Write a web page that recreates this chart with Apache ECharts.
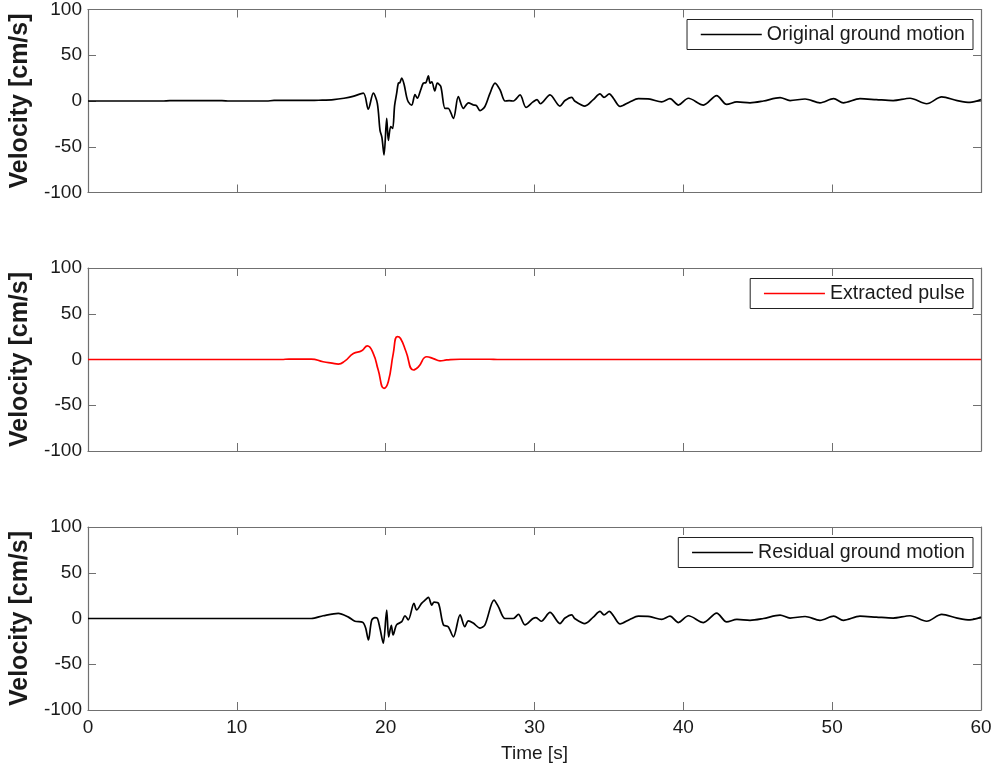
<!DOCTYPE html>
<html>
<head>
<meta charset="utf-8">
<script src="https://cdn.jsdelivr.net/npm/echarts@6/dist/echarts.min.js"></script>
<style>
html,body{margin:0;padding:0;background:#fff;}
#chart{width:995px;height:770px;}
</style>
</head>
<body>
<div id="chart"></div>
<script>
// [time (s), velocity (cm/s)]
const originalEarly = [[0,0],[5,0],[5.5,0.4],[9,0.4],[9.5,0],[12,0],[12.5,0.6],[15,0.6],[15.5,0.8],[16.5,1.5],[17.2,3],[17.8,5],[18.5,8.5],[18.83,-9],[19.17,8.5],[19.44,-2.5],[19.62,-32],[19.75,-40],[19.89,-59],[20.07,-19],[20.18,-43],[20.34,-28],[20.47,-30],[20.6,-5],[20.74,8.5],[20.85,19.5],[20.95,20],[21.08,25],[21.24,18],[21.4,5],[21.52,-1],[21.75,-4.4],[21.97,7],[22.13,3],[22.35,12],[22.53,19.5],[22.7,20],[22.87,27.5],[22.98,19.5],[23.1,21],[23.3,11],[23.47,19.5],[23.7,16],[23.99,-8],[24.2,-8],[24.55,-19],[24.88,4.7],[25.22,-8],[25.56,-2],[25.9,-4.4],[26.1,-5],[26.34,-10.6],[26.67,-6],[27.0,8],[27.35,19.5],[27.69,12],[28.02,0],[28.3,0.5],[28.58,0],[29.03,6.6],[29.43,-7],[29.9,-1],[30.17,1.5],[30.4,-3]];
const residualEarly = [[0,0],[15,0],[15.8,3],[16.82,5.7],[17.5,1.5],[17.94,-3],[18.45,-4],[18.65,-10],[18.84,-23.5],[19.06,-2],[19.28,1],[19.45,0],[19.62,-11],[19.84,-27],[20.07,9.3],[20.2,-20],[20.38,-7.5],[20.5,-18],[20.73,-7],[21.08,-3.5],[21.3,3],[21.52,-1.5],[21.9,16.5],[22.08,9.3],[22.41,16.5],[22.64,20],[22.87,23],[23.1,14.5],[23.25,18],[23.55,16.5],[23.88,-7],[24.2,-9],[24.55,-20],[25.0,4],[25.32,-9],[25.55,-2.5],[25.88,-5],[26.34,-10.5],[26.67,-7],[27.28,20],[27.57,13],[28.02,0],[28.58,0],[28.92,4.5],[29.36,-7],[29.9,0],[30.1,1],[30.45,-3]];
// coda after the pulse (identical in original and residual records)
const lateCoda = [[31.04,6.6],[31.71,-5.5],[32.05,0.5],[32.5,4],[32.7,0],[33.39,-5.5],[33.95,1.5],[34.4,7.7],[34.67,4],[35.03,7.7],[35.3,3],[35.75,-6],[36.4,-1],[36.98,2.5],[37.76,2],[38.54,-1],[39.1,2.5],[39.67,-4.4],[40.34,3],[41.35,-4.4],[42.24,5.9],[42.91,-3.7],[43.6,-1],[44.48,-2],[45.38,0],[46.5,3.7],[47.17,0.5],[48.18,2.2],[49.18,-2],[50.1,2.5],[50.75,-2],[51.87,2.5],[52.97,1.5],[54.1,0.5],[55.23,3],[56.35,-3],[57.36,4.4],[58.4,0.5],[59.26,-1.5],[60,1.5]];
const extractedPulse = [[0,0],[13,0],[13.5,0.5],[15,0.5],[15.8,-2.5],[16.4,-4],[16.82,-5],[17.27,-1.5],[17.83,6.5],[18.39,9.5],[18.77,15],[19.17,6.5],[19.5,-11.5],[19.89,-31.5],[20.18,-24],[20.51,6.5],[20.78,25],[21.0,23],[21.37,8.5],[21.86,-11.5],[22.2,-8],[22.76,3],[23.2,1],[23.65,-1.5],[24.1,-0.5],[25,0.3],[27,0.3],[27.5,0],[60,0]];

const seriesNames = ['Original ground motion','Extracted pulse','Residual ground motion'];
const xTicks = {min:0, max:60, interval:10};
const yTicks = {min:-100, max:100, interval:50};

const originalMotion = originalEarly.concat(lateCoda);
const residualMotion = residualEarly.concat(lateCoda);

const FONT = '"Liberation Sans", Arial, sans-serif';
const AX = '#707070';
const TXT = '#1a1a1a';
const grids = [
  {left:88, right:14, top:9.5, height:183},
  {left:88, right:14, top:268, height:183},
  {left:88, right:14, top:527, height:183}
];
const xAxes = [], yAxes = [];
grids.forEach((g, i) => {
  const last = i === 2;
  xAxes.push({type:'value', gridIndex:i, position:'bottom', min:xTicks.min, max:xTicks.max, interval:xTicks.interval,
    axisLine:{show:true, onZero:false, lineStyle:{color:AX, width:1.2}},
    axisTick:{show:true, inside:true, length:8, lineStyle:{color:AX}},
    axisLabel:{show:last, margin:8, color:TXT, fontSize:19, fontFamily:FONT},
    splitLine:{show:false},
    name: last ? 'Time [s]' : '', nameLocation:'middle', nameGap:34,
    nameTextStyle:{color:TXT, fontSize:19, fontFamily:FONT}});
  xAxes.push({type:'value', gridIndex:i, position:'top', min:xTicks.min, max:xTicks.max, interval:xTicks.interval,
    axisLine:{show:true, onZero:false, lineStyle:{color:AX, width:1.2}},
    axisTick:{show:true, inside:true, length:8, lineStyle:{color:AX}},
    axisLabel:{show:false}, splitLine:{show:false}});
  yAxes.push({type:'value', gridIndex:i, position:'left', min:yTicks.min, max:yTicks.max, interval:yTicks.interval,
    axisLine:{show:true, onZero:false, lineStyle:{color:AX, width:1.2}},
    axisTick:{show:true, inside:true, length:8, lineStyle:{color:AX}},
    axisLabel:{show:true, margin:6, color:TXT, fontSize:19, fontFamily:FONT},
    splitLine:{show:false},
    name:'Velocity [cm/s]', nameLocation:'middle', nameGap:55,
    nameTextStyle:{color:TXT, fontSize:25, fontWeight:'bold', fontFamily:FONT}});
  yAxes.push({type:'value', gridIndex:i, position:'right', min:yTicks.min, max:yTicks.max, interval:yTicks.interval,
    axisLine:{show:true, onZero:false, lineStyle:{color:AX, width:1.2}},
    axisTick:{show:true, inside:true, length:8, lineStyle:{color:AX}},
    axisLabel:{show:false}, splitLine:{show:false}});
});

const datasets = [originalMotion, extractedPulse, residualMotion];
const colors = ['#000000', '#ff0000', '#000000'];
const smooths = [0.3, 0.5, 0.3];
const series = datasets.map((d, i) => ({
  name: seriesNames[i], type:'line', xAxisIndex:2*i, yAxisIndex:2*i,
  data: d, symbol:'none', smooth: smooths[i], animation:false,
  lineStyle:{color:colors[i], width:1.7}, itemStyle:{color:colors[i]}
}));

const legendTops = [19.5, 278.5, 537.5];
const legends = seriesNames.map((n, i) => ({
  data:[n], right:22, top:legendTops[i], orient:'horizontal',
  backgroundColor:'#fff', borderColor:'#222', borderWidth:1,
  padding:[5, 8, 5, 13], itemWidth:61, itemHeight:14,
  itemStyle:{opacity:0},
  lineStyle:{width:1.5},
  textStyle:{color:TXT, fontSize:19.6, fontFamily:FONT}
}));

const chart = echarts.init(document.getElementById('chart'), null, {renderer:'canvas'});
chart.setOption({
  animation:false,
  backgroundColor:'#fff',
  grid: grids,
  xAxis: xAxes,
  yAxis: yAxes,
  legend: legends,
  series: series
});
</script>
</body>
</html>
